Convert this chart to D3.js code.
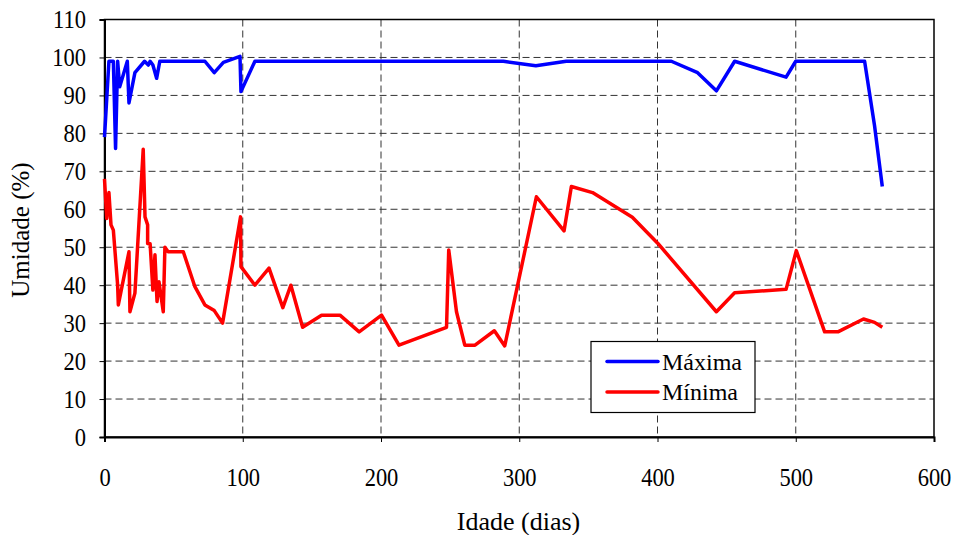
<!DOCTYPE html>
<html><head><meta charset="utf-8">
<script src="https://cdn.jsdelivr.net/npm/d3@7"></script>
</head><body style="margin:0"><svg id="c" width="955" height="535"></svg>
<script>
const maxDays = [0,3.2,6.4,8,9.5,11,16.5,17.7,22,29,31.7,33,35,37.7,40,72.6,79.4,86,98,98.7,108.8,288.5,312,334,410,429,442.6,455.8,493,500,549.8,557,562.6];
const maxVals = [79,99,99,76,99,92.3,99,88,96,99,98,99,98,94.5,99,99,96,98.7,100.3,91,99,99,97.8,99,99,96,91.2,99,94.8,99,99,82,66];
const minDays = [0,1.6,3.2,4.7,6.4,9.5,10,17.7,18.4,22,28,29.3,31.2,31.2,33,35,36.5,38,39.4,42.5,43.7,46,57,65.4,72.6,79.4,85.4,98.4,98.7,108.8,119,129,134.8,143.3,157,170.3,184.2,200.4,213,247.4,249,254.6,260.6,268,282,289.5,312.4,332.4,337.7,353,381.8,400.3,442.6,455.8,493,500.4,520.9,530.5,549,557,562.6];
const minVals = [68,57.6,64.4,55.9,54.5,40,34.8,48.8,33,37.9,75.8,58,55.9,51,50.9,38.7,48,35.7,40.9,33,50,48.8,48.8,39.6,34.8,33.3,30,58,44.9,40,44.5,34.1,40,28.9,32.1,32.1,27.7,32.1,24.2,28.9,49.3,33,24.2,24.2,28,24,63.3,54.3,66,64.4,57.9,51,33,38,38.9,49.1,27.7,27.7,31.1,30.2,28.9];
const xTicks = [0,100,200,300,400,500,600];
const yTicks = [0,10,20,30,40,50,60,70,80,90,100,110];
const seriesNames = ["Máxima","Mínima"];
const seriesColors = ["#0000ff","#ff0000"];

const FONT = '"Times New Roman"';
const svg = d3.select("#c");
const L=104.5, R=934, T=19.5, B=437;
const x = d3.scaleLinear().domain([0,600]).range([L,R]);
const y = d3.scaleLinear().domain([0,110]).range([B,T]);

function label(sel, size){ return sel.style("font-family",FONT).style("font-size",size+"px").attr("fill","#000"); }

const g = svg.append("g");
g.selectAll(".hg").data(yTicks.filter(d=>d>0&&d<110)).join("line")
  .attr("x1",L).attr("x2",R).attr("y1",d=>y(d)).attr("y2",d=>y(d))
  .attr("stroke","#333").attr("stroke-width",1).attr("stroke-dasharray","7,4");
g.selectAll(".vg").data(xTicks.filter(d=>d>0&&d<600)).join("line")
  .attr("y1",T).attr("y2",B).attr("x1",d=>x(d)).attr("x2",d=>x(d))
  .attr("stroke","#333").attr("stroke-width",1).attr("stroke-dasharray","7,4");

svg.append("rect").attr("x",L).attr("y",T).attr("width",R-L).attr("height",B-T)
  .attr("fill","none").attr("stroke","#000").attr("stroke-width",1.5);

const xa = svg.append("g").attr("transform",`translate(0,${B})`)
  .call(d3.axisBottom(x).tickValues(xTicks).tickSize(5).tickFormat(d3.format("d")));
const ya = svg.append("g").attr("transform",`translate(${L},0)`)
  .call(d3.axisLeft(y).tickValues(yTicks).tickSize(5).tickFormat(d3.format("d")));
[xa,ya].forEach(a=>{
  a.attr("font-family",null).attr("font-size",null);
  a.select(".domain").attr("stroke","#000").attr("stroke-width",2);
  a.selectAll(".tick line").attr("stroke","#000");
  label(a.selectAll("text"),25);
});
xa.selectAll(".tick text").attr("x",0).attr("y",0).attr("dy",null)
  .attr("transform","translate(0,48.7) scale(0.9,1)");
ya.selectAll(".tick text").attr("x",0).attr("dy","0.33em")
  .attr("transform","translate(-18.5,0) scale(0.9,1)");

const line = d3.line().x(d=>x(d[0])).y(d=>y(d[1]));
const maxData = maxDays.map((d,i)=>[d,maxVals[i]]);
const minData = minDays.map((d,i)=>[d,minVals[i]]);
svg.append("path").datum(maxData).attr("d",line).attr("fill","none")
  .attr("stroke",seriesColors[0]).attr("stroke-width",3.5).attr("stroke-linejoin","round");
svg.append("path").datum(minData).attr("d",line).attr("fill","none")
  .attr("stroke",seriesColors[1]).attr("stroke-width",3.5).attr("stroke-linejoin","round");

label(svg.append("text").attr("x",518.5).attr("y",530).attr("text-anchor","middle"),26).text("Idade (dias)");
label(svg.append("text").attr("transform","translate(29,230) rotate(-90)").attr("text-anchor","middle"),25).text("Umidade (%)");

const lg = svg.append("g");
lg.append("rect").attr("x",591).attr("y",341.5).attr("width",164).attr("height",71)
  .attr("fill","#fff").attr("stroke","#000").attr("stroke-width",1.2);
seriesNames.forEach((n,i)=>{
  const yy = 361.5 + i*30.5;
  lg.append("line").attr("x1",607).attr("x2",658).attr("y1",yy).attr("y2",yy)
    .attr("stroke",seriesColors[i]).attr("stroke-width",3.5).attr("stroke-linecap","round");
  label(lg.append("text").attr("x",662).attr("y",yy+8),24).text(n);
});
</script></body></html>
